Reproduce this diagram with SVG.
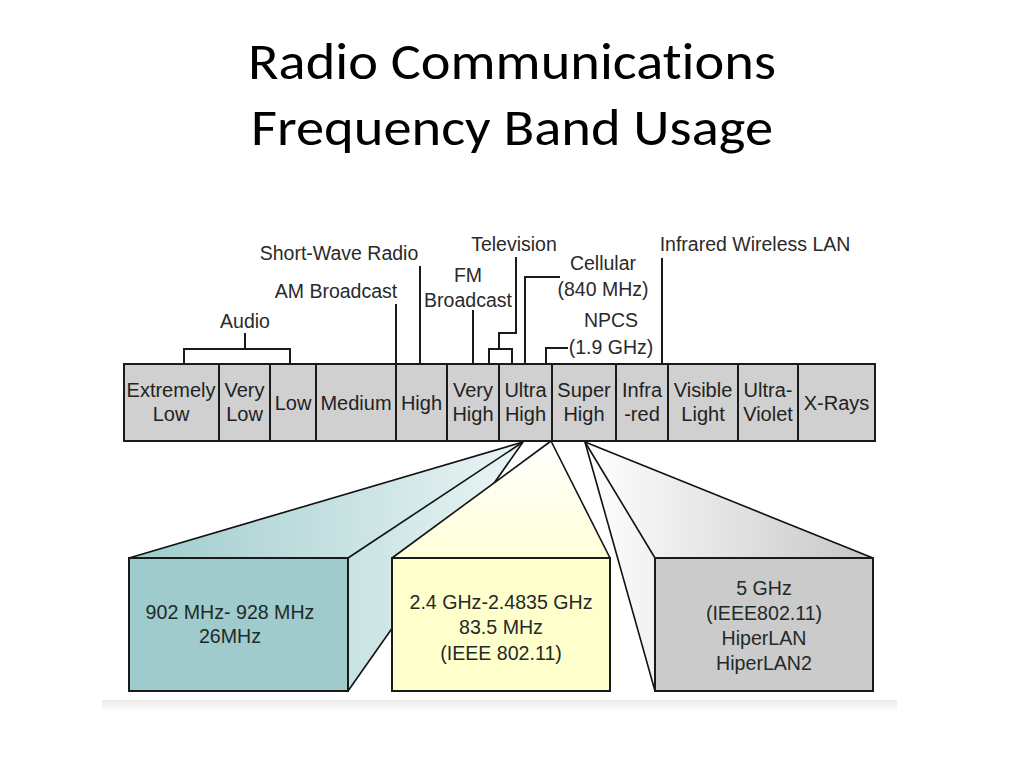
<svg xmlns="http://www.w3.org/2000/svg" width="1024" height="768" viewBox="0 0 1024 768">
<defs>
<style>
.title{font-family:Carlito,Lato,"Open Sans",sans-serif;font-size:51px;fill:#000;text-anchor:middle;font-variant-ligatures:none}
.band rect{fill:#d0d0d0;stroke:#1a1a1a;stroke-width:2}
.band text,.lbl text{font-family:"Liberation Sans",Arial,sans-serif;fill:#222;text-anchor:middle}
.band text{font-size:20px}
.lbl text{font-size:19.5px;fill:#2a2a2a}
.conn line,.conn polyline{fill:none;stroke:#1a1a1a;stroke-width:2}
.fan{stroke:#111;stroke-width:1.6;fill:none}
.box rect{stroke:#1a1a1a;stroke-width:2}
.box text{font-family:"Liberation Sans",Arial,sans-serif;font-size:19.6px;fill:#1f2a2a;text-anchor:middle}
</style>
<linearGradient id="gTeal" gradientUnits="userSpaceOnUse" x1="150" y1="0" x2="523" y2="0">
<stop offset="0" stop-color="#a2cdce"/><stop offset="1" stop-color="#eaf5f5"/>
</linearGradient>
<linearGradient id="gYel" gradientUnits="userSpaceOnUse" x1="0" y1="441" x2="0" y2="558">
<stop offset="0" stop-color="#ffffff"/><stop offset="1" stop-color="#ffffd8"/>
</linearGradient>
<linearGradient id="gGray" gradientUnits="userSpaceOnUse" x1="585" y1="0" x2="873" y2="0">
<stop offset="0" stop-color="#ffffff"/><stop offset="1" stop-color="#c6c6c6"/>
</linearGradient>
<linearGradient id="gShadow" x1="0" y1="0" x2="0" y2="1">
<stop offset="0" stop-color="#ebebeb"/><stop offset="1" stop-color="#fbfbfb"/>
</linearGradient>
</defs>
<rect x="0" y="0" width="1024" height="768" fill="#fff"/>

<g id="title">
<text class="title" x="512" y="79" textLength="528" lengthAdjust="spacingAndGlyphs">Radio Communications</text>
<text class="title" x="512" y="145" textLength="522" lengthAdjust="spacingAndGlyphs">Frequency Band Usage</text>
</g>

<rect x="102" y="700" width="795" height="11" fill="url(#gShadow)"/>

<g id="box-900">
<polygon points="523,442 129,558 348,558 348,691" fill="url(#gTeal)"/>
<line class="fan" x1="523" y1="442" x2="129" y2="558"/>
<line class="fan" x1="523" y1="442" x2="348" y2="558"/>
<line class="fan" x1="523" y1="442" x2="348" y2="691"/>
<g class="box"><rect x="129" y="558" width="219" height="133" fill="#9fcbcc"/>
<text x="230" y="619">902 MHz- 928 MHz</text>
<text x="230" y="643">26MHz</text></g>
</g>

<g id="box-2400">
<polygon points="551,441 392,558 610,558" fill="url(#gYel)"/>
<line class="fan" x1="551" y1="441" x2="392" y2="558"/>
<line class="fan" x1="551" y1="441" x2="610" y2="558"/>
<g class="box"><rect x="392" y="558" width="218" height="133" fill="#ffffcc"/>
<text x="501" y="609">2.4 GHz-2.4835 GHz</text>
<text x="501" y="634">83.5 MHz</text>
<text x="501" y="660">(IEEE 802.11)</text></g>
</g>

<g id="box-5000">
<polygon points="585,442 655,691 655,558 873,558" fill="url(#gGray)"/>
<line class="fan" x1="585" y1="442" x2="655" y2="691"/>
<line class="fan" x1="585" y1="442" x2="655" y2="558"/>
<line class="fan" x1="585" y1="442" x2="873" y2="558"/>
<g class="box"><rect x="655" y="558" width="218" height="133" fill="#cbcbcb"/>
<text x="764" y="595">5 GHz</text>
<text x="764" y="620">(IEEE802.11)</text>
<text x="764" y="645">HiperLAN</text>
<text x="764" y="670">HiperLAN2</text></g>
</g>

<g id="connectors" class="conn">
<polyline points="245,333 245,349"/>
<polyline points="184,364 184,349 290,349 290,364"/>
<line x1="396" y1="304" x2="396" y2="364"/>
<line x1="420" y1="266" x2="420" y2="364"/>
<line x1="473" y1="310" x2="473" y2="364"/>
<polyline points="516,257 516,333 499,333 499,349"/>
<polyline points="489,364 489,349 512,349 512,364"/>
<polyline points="560,277 525,277 525,364"/>
<polyline points="568,348 546,348 546,364"/>
<line x1="662" y1="258" x2="662" y2="364"/>
</g>

<g id="labels" class="lbl">
<g id="lbl-audio"><text x="245" y="328">Audio</text></g>
<g id="lbl-sw"><text x="339" y="260">Short-Wave Radio</text></g>
<g id="lbl-am"><text x="336" y="298">AM Broadcast</text></g>
<g id="lbl-fm"><text x="468" y="282">FM</text><text x="468" y="307">Broadcast</text></g>
<g id="lbl-tv"><text x="514" y="251">Television</text></g>
<g id="lbl-cell"><text x="603" y="270">Cellular</text><text x="603" y="296">(840 MHz)</text></g>
<g id="lbl-npcs"><text x="611" y="327">NPCS</text><text x="611" y="354">(1.9 GHz)</text></g>
<g id="lbl-irlan"><text x="755" y="251">Infrared Wireless LAN</text></g>
</g>

<g id="bands">
<g id="band-elf" class="band"><rect x="124" y="364" width="95" height="77"/><text x="171" y="397">Extremely</text><text x="171" y="421">Low</text></g>
<g id="band-vlf" class="band"><rect x="219" y="364" width="51" height="77"/><text x="244.5" y="397">Very</text><text x="244.5" y="421">Low</text></g>
<g id="band-lf" class="band"><rect x="270" y="364" width="46" height="77"/><text x="293" y="410">Low</text></g>
<g id="band-mf" class="band"><rect x="316" y="364" width="80" height="77"/><text x="356" y="410">Medium</text></g>
<g id="band-hf" class="band"><rect x="396" y="364" width="51" height="77"/><text x="421.5" y="410">High</text></g>
<g id="band-vhf" class="band"><rect x="447" y="364" width="52" height="77"/><text x="473" y="397">Very</text><text x="473" y="421">High</text></g>
<g id="band-uhf" class="band"><rect x="499" y="364" width="53" height="77"/><text x="525.5" y="397">Ultra</text><text x="525.5" y="421">High</text></g>
<g id="band-shf" class="band"><rect x="552" y="364" width="64" height="77"/><text x="584" y="397">Super</text><text x="584" y="421">High</text></g>
<g id="band-ir" class="band"><rect x="616" y="364" width="52" height="77"/><text x="642" y="397">Infra</text><text x="642" y="421">-red</text></g>
<g id="band-vis" class="band"><rect x="668" y="364" width="70" height="77"/><text x="703" y="397">Visible</text><text x="703" y="421">Light</text></g>
<g id="band-uv" class="band"><rect x="738" y="364" width="60" height="77"/><text x="768" y="397">Ultra-</text><text x="768" y="421">Violet</text></g>
<g id="band-xray" class="band"><rect x="798" y="364" width="77" height="77"/><text x="836.5" y="410">X-Rays</text></g>
</g>
</svg>
